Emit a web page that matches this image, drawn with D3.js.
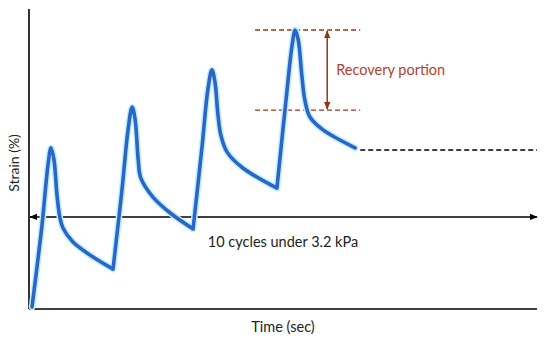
<!DOCTYPE html>
<head>
    <meta charset="utf-8">
    <script src="https://d3js.org/d3.v7.min.js"></script>
    <style>
        html, body { margin: 0; padding: 0; background: #fff; }
        svg { display: block; }
        text { font-family: Lato, "Open Sans", sans-serif; fill: #222; }
    </style>
</head>
<body>
<svg width="550" height="342"></svg>
<script>
    // creep-recovery curve (arbitrary units 0-100)
    var time = [0.59, 2.56, 3.74, 4.33, 4.92, 5.51, 6.10, 6.69, 8.66, 12.0, 16.54,
                18.3, 19.5, 20.3, 20.9, 21.5, 22.0, 24.4, 27.8, 32.3,
                34.1, 35.2, 36.0, 36.6, 37.2, 37.8, 39.0, 42.1, 48.8,
                50.6, 51.8, 52.4, 53.0, 53.7, 54.3, 55.3, 57.9, 64.2];
    var strain = [0.67, 28.0, 48.0, 53.7, 49.7, 38.0, 30.3, 27.0, 22.3, 18.0, 13.3,
                  39.7, 59.7, 67.3, 63.0, 49.7, 43.7, 37.3, 32.0, 26.7,
                  54.7, 73.0, 79.7, 75.7, 64.7, 57.7, 52.3, 47.0, 40.3,
                  69.7, 88.0, 93.0, 89.7, 78.0, 69.7, 64.0, 59.7, 53.7];
    // index of each point where loading starts again (sharp corner)
    var troughs = [0, 10, 19, 28, 37];

    var peakLevel = 93.0;       // top of recovery portion
    var recoveredLevel = 66.3;  // bottom of recovery portion
    var residualLevel = 53.0;   // residual strain line
    var cycleLevel = 30.7;      // "10 cycles" arrow
    var recoveryStart = 44.5, recoveryEnd = 65.2, recoveryArrowAt = 58.7;

    var svg = d3.select("svg");
    var margin = {top: 9, right: 13, bottom: 33, left: 29};
    var width = 550 - margin.left - margin.right;
    var height = 342 - margin.top - margin.bottom;

    var x = d3.scaleLinear().domain([0, 100]).range([0, width]);
    var y = d3.scaleLinear().domain([0, 100]).range([height, 0]);

    var defs = svg.append("defs");
    function marker(id, color, w) {
        defs.append("marker")
            .attr("id", id)
            .attr("viewBox", "0 0 10 10")
            .attr("refX", 9).attr("refY", 5)
            .attr("markerWidth", w).attr("markerHeight", w)
            .attr("markerUnits", "userSpaceOnUse")
            .attr("orient", "auto-start-reverse")
            .append("path")
            .attr("d", "M0,1 L10,5 L0,9 Z")
            .attr("fill", color);
    }
    marker("arrBlack", "#000", 8);
    marker("arrBrown", "#8b3a12", 8);

    var g = svg.append("g")
        .attr("transform", "translate(" + margin.left + "," + margin.top + ")");

    // axes (plain lines, no ticks)
    g.append("line")
        .attr("x1", 0).attr("x2", 0).attr("y1", 0).attr("y2", height)
        .attr("stroke", "#000").attr("stroke-width", 1.6);
    g.append("line")
        .attr("x1", 0).attr("x2", width).attr("y1", height).attr("y2", height)
        .attr("stroke", "#000").attr("stroke-width", 1.6);

    // cycles arrow
    g.append("line")
        .attr("x1", x(0) + 1).attr("x2", x(100))
        .attr("y1", y(cycleLevel)).attr("y2", y(cycleLevel))
        .attr("stroke", "#000").attr("stroke-width", 1.5)
        .attr("marker-start", "url(#arrBlack)")
        .attr("marker-end", "url(#arrBlack)");

    // recovery dashed lines
    [peakLevel, recoveredLevel].forEach(function(v) {
        g.append("line")
            .attr("x1", x(recoveryStart)).attr("x2", x(recoveryEnd))
            .attr("y1", y(v)).attr("y2", y(v))
            .attr("stroke", "#a8321e").attr("stroke-width", 1.3)
            .attr("stroke-dasharray", "5,3");
    });
    g.append("line")
        .attr("x1", x(recoveryArrowAt)).attr("x2", x(recoveryArrowAt))
        .attr("y1", y(peakLevel) + 1).attr("y2", y(recoveredLevel) - 1)
        .attr("stroke", "#8b3a12").attr("stroke-width", 1.5)
        .attr("marker-start", "url(#arrBrown)")
        .attr("marker-end", "url(#arrBrown)");

    // residual dashed line
    g.append("line")
        .attr("x1", x(recoveryEnd)).attr("x2", x(100))
        .attr("y1", y(residualLevel)).attr("y2", y(residualLevel))
        .attr("stroke", "#000").attr("stroke-width", 1.3)
        .attr("stroke-dasharray", "5,3");

    // strain curve: smooth within each cycle, sharp corner at each trough
    var pts = time.map(function(t, i) { return [t, strain[i]]; });
    var line = d3.line()
        .x(function(d) { return x(d[0]); })
        .y(function(d) { return y(d[1]); })
        .curve(d3.curveCatmullRom.alpha(0.5));
    var pathD = "";
    for (var k = 0; k < troughs.length - 1; k++) {
        pathD += line(pts.slice(troughs[k], troughs[k + 1] + 1));
    }

    g.append("path")
        .attr("d", pathD)
        .attr("fill", "none")
        .attr("stroke", "#b8f2fb")
        .attr("stroke-width", 6.5)
        .attr("stroke-linejoin", "round")
        .attr("stroke-linecap", "round");
    g.append("path")
        .attr("d", pathD)
        .attr("fill", "none")
        .attr("stroke", "#2f63c8")
        .attr("stroke-width", 3.6)
        .attr("stroke-linejoin", "round")
        .attr("stroke-linecap", "round");

    // labels
    g.append("text")
        .attr("x", x(50)).attr("y", y(cycleLevel) + 30)
        .attr("text-anchor", "middle")
        .style("font-size", "14.5px")
        .text("10 cycles under 3.2 kPa");

    g.append("text")
        .attr("x", x(recoveryArrowAt) + 9).attr("y", y((peakLevel + recoveredLevel) / 2) + 5)
        .style("font-size", "14.5px")
        .style("fill", "#b4402c")
        .text("Recovery portion");

    svg.append("text")
        .attr("x", 283).attr("y", 332)
        .attr("text-anchor", "middle")
        .style("font-size", "14.5px")
        .text("Time (sec)");

    svg.append("text")
        .attr("transform", "translate(19,163) rotate(-90)")
        .attr("text-anchor", "middle")
        .style("font-size", "14px")
        .text("Strain (%)");
</script>
</body>
